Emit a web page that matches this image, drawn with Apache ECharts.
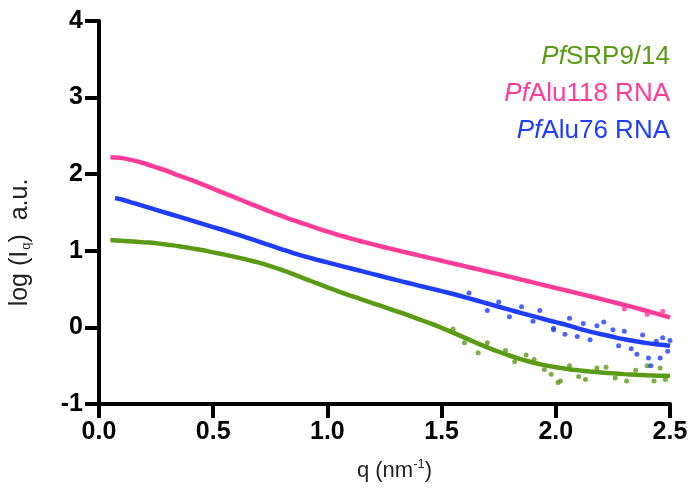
<!DOCTYPE html>
<html>
<head>
<meta charset="utf-8">
<script src="https://cdn.jsdelivr.net/npm/echarts@6/dist/echarts.min.js"></script>
<style>
  html, body { margin: 0; padding: 0; background: #fff; }
  #chart { width: 692px; height: 496px; }
</style>
</head>
<body>
<div id="chart"></div>
<script>
// q values (nm^-1) shared by the smooth parts of the curves
var qSteps = [0.05,0.10,0.15,0.20,0.25,0.30,0.35,0.40,0.45,0.50,0.55,0.60,0.65,0.70,0.75,0.80,0.85,0.90,0.95,1.00,
  1.05,1.10,1.15,1.20,1.25,1.30,1.35,1.40,1.45,1.50,1.55,1.60,1.65,1.70,1.75,1.80,1.85,1.90,1.95,2.00,
  2.05,2.10,2.15,2.20,2.25,2.30,2.35,2.40,2.45,2.50];

var alu118 = [2.22,2.21,2.18,2.14,2.09,2.04,1.98,1.93,1.87,1.81,1.75,1.69,1.63,1.57,1.51,1.455,1.40,1.35,1.30,1.25,
  1.205,1.162,1.122,1.084,1.047,1.011,0.975,0.94,0.905,0.87,0.835,0.80,0.765,0.73,0.695,0.66,0.623,0.587,0.55,0.514,
  0.478,0.442,0.406,0.369,0.331,0.293,0.254,0.214,0.173,0.13];

// first blue point sits at q = 0.07
var alu76Start = [0.07, 1.69];
var alu76 = [null,1.67,1.625,1.58,1.535,1.49,1.445,1.40,1.355,1.31,1.265,1.218,1.17,1.12,1.07,1.02,0.97,0.927,0.887,0.848,
  0.81,0.772,0.734,0.696,0.658,0.62,0.583,0.546,0.51,0.474,0.436,0.396,0.354,0.312,0.27,0.228,0.187,0.147,0.107,0.068,
  0.03,-0.015,-0.055,-0.09,-0.123,-0.155,-0.182,-0.205,-0.224,-0.24];

var srp = [1.14,1.13,1.12,1.11,1.10,1.08,1.06,1.035,1.01,0.98,0.95,0.918,0.883,0.845,0.80,0.75,0.695,0.638,0.58,0.523,
  0.468,0.416,0.365,0.315,0.265,0.214,0.162,0.108,0.052,-0.006,-0.068,-0.133,-0.198,-0.26,-0.318,-0.37,-0.417,-0.458,-0.493,-0.52,
  -0.542,-0.56,-0.575,-0.588,-0.60,-0.61,-0.618,-0.625,-0.63,-0.635];

// scattered points at high q
var alu76Dots = [[1.62,0.45],[1.70,0.22],[1.75,0.33],[1.797,0.14],[1.85,0.27],[1.90,0.08],[1.93,0.22],[1.99,-0.01],
  [1.99,-0.03],[2.04,-0.09],[2.06,0.12],[2.094,-0.12],[2.12,0.05],[2.15,-0.16],[2.18,0.02],[2.21,0.07],[2.25,-0.03],
  [2.275,-0.24],[2.30,-0.05],[2.33,-0.28],[2.355,-0.35],[2.38,-0.10],[2.406,-0.40],[2.416,-0.50],[2.44,-0.18],
  [2.457,-0.40],[2.468,-0.135],[2.49,-0.31],[2.50,-0.17]];
var srpDots = [[1.55,-0.02],[1.60,-0.20],[1.66,-0.33],[1.70,-0.20],[1.78,-0.30],[1.82,-0.45],[1.87,-0.36],[1.905,-0.42],
  [1.95,-0.55],[1.98,-0.61],[2.01,-0.72],[2.02,-0.70],[2.06,-0.50],[2.10,-0.64],[2.13,-0.68],[2.18,-0.53],[2.22,-0.52],
  [2.26,-0.66],[2.31,-0.70],[2.35,-0.56],[2.40,-0.50],[2.43,-0.70],[2.457,-0.53],[2.48,-0.68]];
var alu118Dots = [[2.40,0.17],[2.468,0.21],[2.30,0.24]];

var legendNames = ['SRP9/14', 'Alu118 RNA', 'Alu76 RNA'];
var colors = ['#5a9a14', '#ff3d98', '#1f3dff'];

function pairs(vals, start) {
  var out = start ? [start] : [];
  for (var i = 0; i < qSteps.length; i++) {
    if (vals[i] !== null) out.push([qSteps[i], vals[i]]);
  }
  return out;
}

function curve(name, vals, color, start) {
  return {
    name: name,
    type: 'line',
    smooth: 0.3,
    showSymbol: false,
    data: pairs(vals, start),
    lineStyle: { color: color, width: 4.5 },
    z: 2
  };
}

function dots(name, vals, color) {
  return {
    name: name + ' dots',
    type: 'scatter',
    symbolSize: 5,
    data: vals,
    itemStyle: { color: color },
    z: 3
  };
}

var axisText = { fontFamily: 'Liberation Sans', fontWeight: 'bold', fontSize: 25, color: '#000' };

var option = {
  animation: false,
  grid: { left: 95, right: 22, top: 21, bottom: 92 },
  xAxis: {
    type: 'value',
    min: 0,
    max: 2.5,
    interval: 0.5,
    name: 'q (nm{sup|-1})',
    nameLocation: 'middle',
    nameGap: 54,
    nameTextStyle: {
      fontFamily: 'Liberation Sans', fontSize: 22, color: '#222', padding: [0, 0, 0, 20],
      rich: { sup: { fontFamily: 'Liberation Sans', fontSize: 13, color: '#222', verticalAlign: 'top', padding: [0, 0, 12, 0] } }
    },
    axisLine: { onZero: false, lineStyle: { color: '#000', width: 4 } },
    axisTick: { length: 14, lineStyle: { color: '#000', width: 4 } },
    axisLabel: Object.assign({ margin: 16, formatter: function (v) { return v.toFixed(1); } }, axisText),
    splitLine: { show: false }
  },
  yAxis: {
    type: 'value',
    min: -1,
    max: 4,
    interval: 1,
    name: 'log (I{sub|q})  a.u.',
    nameLocation: 'middle',
    nameGap: 66,
    nameTextStyle: {
      fontFamily: 'Liberation Sans', fontSize: 25, color: '#222', padding: [0, 60, 0, 0],
      rich: { sub: { fontFamily: 'Liberation Sans', fontSize: 13, color: '#222', verticalAlign: 'bottom', padding: [10, 0, 0, 1] } }
    },
    axisLine: { onZero: false, lineStyle: { color: '#000', width: 4 } },
    axisTick: { length: 14, lineStyle: { color: '#000', width: 4 } },
    axisLabel: Object.assign({ margin: 16 }, axisText),
    splitLine: { show: false }
  },
  series: [
    curve('PfSRP9/14', srp, colors[0]),
    curve('PfAlu118 RNA', alu118, colors[1]),
    curve('PfAlu76 RNA', alu76, colors[2], alu76Start),
    dots('PfSRP9/14', srpDots, colors[0]),
    dots('PfAlu118 RNA', alu118Dots, colors[1]),
    dots('PfAlu76 RNA', alu76Dots, colors[2])
  ],
  graphic: legendNames.map(function (n, i) {
    return {
      type: 'text',
      right: 22,
      top: 44 + i * 37,
      style: {
        text: '{i|Pf}{n|' + n + '}',
        rich: {
          i: { fontFamily: 'Liberation Sans', fontStyle: 'italic', fontSize: 26, fill: colors[i] },
          n: { fontFamily: 'Liberation Sans', fontSize: 26, fill: colors[i] }
        }
      }
    };
  })
};

var chart = echarts.init(document.getElementById('chart'));
chart.setOption(option);
</script>
</body>
</html>
